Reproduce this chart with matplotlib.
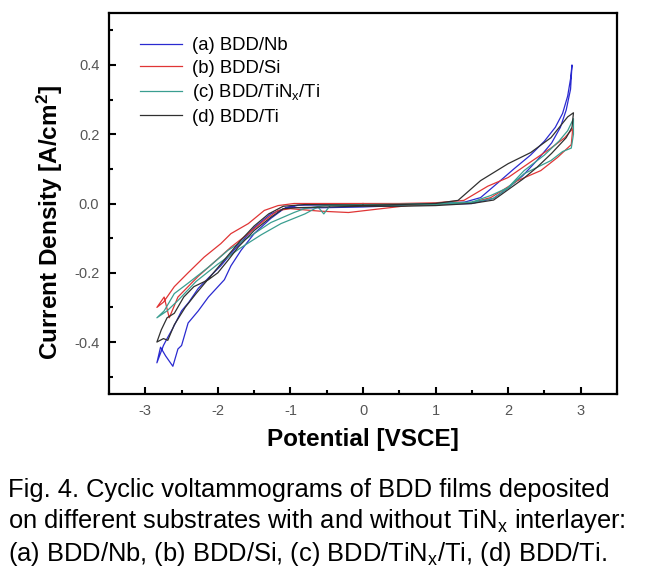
import matplotlib
matplotlib.use("Agg")
import matplotlib.pyplot as plt
from matplotlib.ticker import MultipleLocator, FormatStrFormatter

plt.rcParams['font.family'] = ['Liberation Sans', 'DejaVu Sans']
plt.rcParams['mathtext.fontset'] = 'custom'
plt.rcParams['mathtext.rm'] = 'Liberation Sans'
plt.rcParams['mathtext.bf'] = 'Liberation Sans:bold'
plt.rcParams['axes.unicode_minus'] = False

# (a) BDD/Nb - closed loop, potential [V] and current density [A/cm2]
nb_x = [0, 0.5, 1.0, 1.4, 1.62, 1.86, 2.08, 2.31, 2.5, 2.65, 2.75, 2.82, 2.86, 2.88,
        2.86, 2.8, 2.72, 2.6, 2.4, 2.2, 2.0, 1.8, 1.5, 1.0, 0.5, 0, -0.5, -0.8, -1.03,
        -1.27, -1.5, -1.78, -1.96, -2.13, -2.27, -2.4, -2.5, -2.62, -2.7, -2.75, -2.84,
        -2.79, -2.72, -2.62, -2.55, -2.5, -2.41, -2.27, -2.13, -1.91, -1.82, -1.68, -1.5,
        -1.27, -1.09, -0.9, -0.5, 0]
nb_y = [-0.005, -0.003, 0.0, 0.004, 0.017, 0.06, 0.1, 0.14, 0.18, 0.22, 0.26, 0.31, 0.36, 0.40,
        0.33, 0.27, 0.22, 0.175, 0.125, 0.08, 0.045, 0.015, 0.0, -0.003, -0.006, -0.01, -0.012, -0.013, -0.01,
        -0.03, -0.07, -0.135, -0.18, -0.215, -0.245, -0.285, -0.31, -0.36, -0.39, -0.41, -0.46,
        -0.415, -0.44, -0.47, -0.42, -0.41, -0.345, -0.31, -0.27, -0.22, -0.18, -0.135, -0.087,
        -0.043, -0.015, -0.005, -0.004, -0.005]

# (b) BDD/Si
si_x = [0, 0.5, 1.0, 1.39, 1.72, 2.0, 2.31, 2.59, 2.78, 2.89,
        2.87, 2.68, 2.45, 2.13, 1.9, 1.76, 1.5, 1.0, 0.62, 0.25, -0.2, -0.6, -1.0,
        -1.17, -1.36, -1.58, -1.82, -2.0, -2.27, -2.55, -2.67, -2.74, -2.84,
        -2.75, -2.6, -2.41, -2.19, -1.96, -1.82, -1.58, -1.36, -1.17, -0.95, -0.5, 0]
si_y = [0.0, 0.0, 0.002, 0.009, 0.05, 0.075, 0.12, 0.16, 0.19, 0.216,
        0.17, 0.133, 0.095, 0.066, 0.035, 0.017, 0.003, -0.003, -0.006, -0.015, -0.026, -0.022, -0.015,
        -0.02, -0.049, -0.087, -0.126, -0.16, -0.21, -0.27, -0.33, -0.27, -0.30,
        -0.285, -0.24, -0.2, -0.155, -0.116, -0.087, -0.058, -0.02, -0.006, 0.0, 0.0, 0.0]

# (c) BDD/TiNx/Ti
tin_x = [0, 0.5, 1.0, 1.5, 1.76, 2.0, 2.22, 2.5, 2.7, 2.82, 2.9,
         2.9, 2.87, 2.75, 2.59, 2.22, 2.0, 1.8, 1.5, 1.0, 0.5, 0, -0.45, -0.54, -0.62, -0.8,
         -1.13, -1.4, -1.7, -2.0, -2.3, -2.55, -2.7, -2.84,
         -2.74, -2.6, -2.41, -2.13, -1.86, -1.58, -1.27, -0.95, -0.81, -0.5, 0]
tin_y = [-0.003, -0.002, 0.0, 0.004, 0.023, 0.046, 0.095, 0.14, 0.18, 0.21, 0.245,
         0.2, 0.16, 0.15, 0.124, 0.086, 0.045, 0.015, 0.003, -0.003, -0.005, -0.006, -0.005, -0.03, -0.01, -0.03,
         -0.058, -0.09, -0.13, -0.175, -0.225, -0.28, -0.31, -0.33,
         -0.31, -0.26, -0.23, -0.184, -0.135, -0.098, -0.055, -0.026, -0.015, -0.005, -0.003]

# (d) BDD/Ti
ti_x = [0, 0.5, 1.0, 1.31, 1.62, 2.0, 2.31, 2.59, 2.82, 2.9,
        2.88, 2.8, 2.6, 2.4, 2.2, 2.0, 1.8, 1.5, 1.0, 0.5, 0, -0.5, -0.9, -1.1,
        -1.27, -1.5, -1.72, -1.86, -2.0, -2.13, -2.33, -2.47, -2.6, -2.7, -2.78, -2.84,
        -2.75, -2.69, -2.6, -2.45, -2.3, -2.1, -1.9, -1.7, -1.5, -1.3, -1.1, -0.8, 0]
ti_y = [-0.005, -0.003, 0.0, 0.009, 0.066, 0.115, 0.147, 0.19, 0.25, 0.262,
        0.22, 0.19, 0.145, 0.105, 0.07, 0.04, 0.01, 0.0, -0.006, -0.008, -0.008, -0.01, -0.012, -0.015,
        -0.04, -0.078, -0.126, -0.164, -0.2, -0.22, -0.24, -0.27, -0.317, -0.33, -0.365, -0.40,
        -0.39, -0.395, -0.35, -0.3, -0.26, -0.21, -0.16, -0.11, -0.065, -0.03, -0.008, -0.003, -0.005]

fig = plt.figure(figsize=(6.56, 5.67), dpi=100)
ax = fig.add_axes([109 / 656, 1 - 394 / 567, 508 / 656, 381 / 567])

ax.plot(nb_x, nb_y, color='#2a2ad0', lw=0.9, label='(a) BDD/Nb')
ax.plot(si_x, si_y, color='#e03535', lw=0.9, label='(b) BDD/Si')
ax.plot(tin_x, tin_y, color='#3a9e90', lw=0.9, label='(c) BDD/TiN$_\\mathregular{x}$/Ti')
ax.plot(ti_x, ti_y, color='#303030', lw=0.9, label='(d) BDD/Ti')

ax.set_xlim(-3.5, 3.5)
ax.set_ylim(-0.55, 0.55)
ax.xaxis.set_major_locator(MultipleLocator(1))
ax.xaxis.set_minor_locator(MultipleLocator(0.5))
ax.yaxis.set_major_locator(MultipleLocator(0.2))
ax.yaxis.set_minor_locator(MultipleLocator(0.1))
ax.yaxis.set_major_formatter(FormatStrFormatter('%.1f'))
ax.tick_params(which='both', direction='in', width=1.5, labelsize=10.5,
               labelcolor='#555555', top=False, right=False)
ax.tick_params(which='major', length=5, pad=7)
ax.tick_params(which='minor', length=3)
for s in ax.spines.values():
    s.set_linewidth(1.6)

ax.set_xlabel('Potential [VSCE]', fontsize=17.5, fontweight='bold')
ax.set_ylabel('Current Density [A/cm$\\mathbf{^2}$]', fontsize=17.5, fontweight='bold')
ax.xaxis.set_label_coords(0.5, -0.09)
ax.yaxis.set_label_coords(-0.087, 0.45)

ax.legend(loc='upper left', bbox_to_anchor=(0.028, 0.98), frameon=False, fontsize=13.3,
          handlelength=2.3, handletextpad=0.55, labelspacing=0.3)

caption = ("Fig. 4. Cyclic voltammograms of BDD films deposited\n"
           "on different substrates with and without TiN$_\\mathregular{x}$ interlayer:\n"
           "(a) BDD/Nb, (b) BDD/Si, (c) BDD/TiN$_\\mathregular{x}$/Ti, (d) BDD/Ti.")
fig.text(8 / 656, 1 - 478 / 567, caption, ha='left', va='top', fontsize=18.4,
         linespacing=1.23)

fig.savefig('out.png', dpi=100)
